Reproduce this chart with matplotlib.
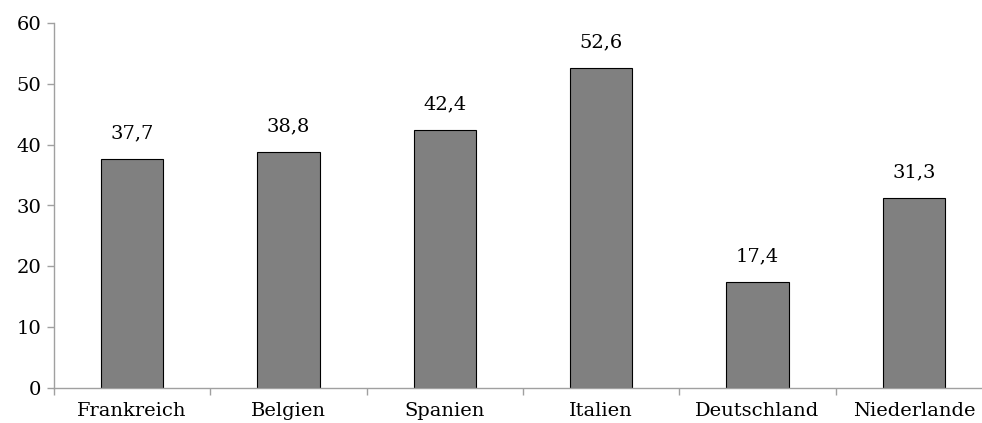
import matplotlib
matplotlib.use("Agg")
import matplotlib.pyplot as plt
import numpy as np

laender = ["Frankreich", "Belgien", "Spanien", "Italien", "Deutschland", "Niederlande"]
werte = [37.7, 38.8, 42.4, 52.6, 17.4, 31.3]
y_ticks = [0, 10, 20, 30, 40, 50, 60]

plt.rcParams['font.family'] = ['DejaVu Serif']

fig = plt.figure(figsize=(9.82, 4.23), dpi=100)
# axes reach a bit past the right edge like in the original
ax = fig.add_axes([54 / 982, 35 / 423, 938 / 982, 365 / 423])

x = np.arange(len(laender))
ax.bar(x, werte, width=0.4, color="#808080", edgecolor="black", linewidth=0.8)

for xi, v in zip(x, werte):
    ax.annotate(f"{v:.1f}".replace(".", ","), (xi, v), xytext=(0, 12),
                textcoords="offset points", ha="center", va="bottom", fontsize=14)

ax.set_xlim(-0.5, len(laender) - 0.5)
ax.set_ylim(0, 60)
ax.set_yticks(y_ticks)
ax.set_xticks(x)
ax.set_xticklabels(laender, fontsize=14)
ax.set_xticks(np.arange(len(laender) + 1) - 0.5, minor=True)
ax.tick_params(axis="x", which="major", length=0, pad=10)
ax.tick_params(axis="x", which="minor", length=5, color="#a0a0a0", width=1)
ax.tick_params(axis="y", labelsize=14, length=5, color="#a0a0a0", width=1, pad=4)

for s in ["top", "right"]:
    ax.spines[s].set_visible(False)
for s in ["left", "bottom"]:
    ax.spines[s].set_color("#a0a0a0")
    ax.spines[s].set_linewidth(1)

fig.savefig("out.png", dpi=100)
